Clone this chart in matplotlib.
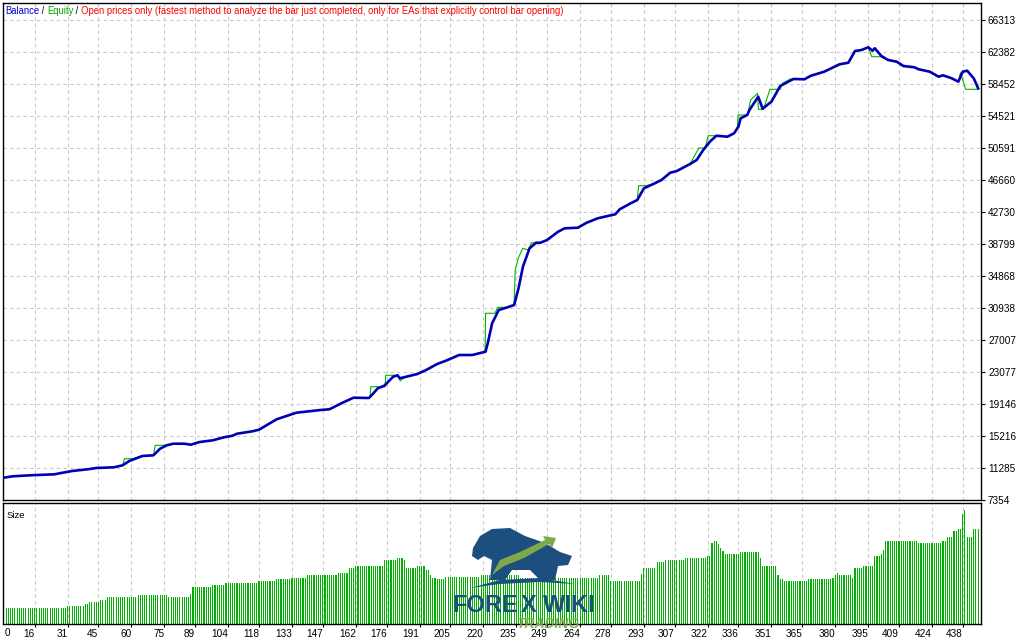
import matplotlib
matplotlib.use("Agg")
import matplotlib.pyplot as plt
import numpy as np
from matplotlib.patches import Polygon

# balance curve (trade number, account balance)
bal_trade = [1, 6, 14, 25, 28, 33, 40, 44, 52, 56, 59, 65, 70, 73, 76, 79, 84, 87, 91, 97,
             102, 106, 108, 115, 118, 126, 135, 146, 150, 153, 156, 161, 168, 170, 172, 175,
             179, 181, 182, 185, 190, 194, 199, 203, 209, 215, 221, 222, 224, 227, 231, 234,
             236, 238, 241, 244, 246, 249, 254, 257, 263, 267, 272, 280, 282, 287, 290, 293,
             297, 301, 305, 308, 314, 317, 320, 323, 326, 331, 334, 336, 337, 340, 341, 345,
             347, 351, 355, 361, 366, 369, 375, 382, 386, 389, 392, 395, 397, 398, 401, 404,
             408, 411, 416, 418, 423, 427, 429, 433, 436, 438, 440, 443, 445]
balance = [10056, 10265, 10388, 10511, 10670, 10916, 11125, 11285, 11371, 11616, 12144, 12759,
           12845, 13655, 14073, 14269, 14269, 14146, 14478, 14687, 15056, 15252, 15498, 15792,
           15989, 17267, 18077, 18409, 18495, 18900, 19306, 19920, 19883, 20460, 21074, 21393,
           22499, 22671, 22302, 22499, 22831, 23322, 24059, 24464, 25164, 25164, 25570, 26601,
           29058, 30692, 31024, 31306, 33357, 36010, 38270, 38958, 38958, 39290, 40310, 40727,
           40801, 41415, 41955, 42447, 43061, 43798, 44203, 45640, 46132, 46660, 47557, 47766,
           48625, 49116, 50345, 51364, 52101, 51978, 52396, 53207, 54239, 54644, 55258, 56892,
           55419, 56279, 58207, 59067, 59030, 59472, 59963, 60872, 61069, 62506, 62628, 62960,
           62542, 62837, 61891, 61400, 61191, 60663, 60503, 60258, 59963, 59349, 59520, 59152,
           58734, 59963, 60086, 59152, 57924]

# equity curve (floating equity between closes)
eq_trade = [1, 6, 14, 25, 28, 33, 40, 44, 52, 56, 56.8, 60.7, 64.3, 70, 70.8, 76.2, 79, 84, 87,
            91, 97, 102, 106, 108, 115, 118, 126, 135, 146, 150, 153, 156, 161, 168.5, 168.8,
            175.3, 175.6, 181.2, 182.2, 183.5, 185, 190, 194, 199, 203, 209, 215, 220.8, 221,
            225.3, 226.5, 231, 234, 234.5, 235.9, 237.9, 240.4, 241.9, 246, 249, 254, 257, 263,
            267, 272, 280, 282, 287, 290, 290.6, 293.8, 297, 301, 305, 308, 314, 318, 320.9,
            322.2, 326.5, 331, 334, 335.6, 335.8, 340.2, 341.5, 344.7, 345.1, 347.4, 350.3,
            355.1, 356, 359.6, 366, 369, 375, 382, 386, 389, 392, 395, 396.6, 400.6, 404, 408,
            411, 416, 418, 423, 427, 429, 433, 436, 437, 439.3, 445.3]
equity = [10056, 10265, 10388, 10511, 10670, 10916, 11125, 11285, 11371, 11616, 12427, 12427,
          12759, 12845, 14073, 14073, 14269, 14269, 14146, 14478, 14687, 15056, 15252, 15498,
          15792, 15989, 17267, 18077, 18409, 18495, 18900, 19306, 19920, 19920, 21271, 21271,
          22671, 22671, 21971, 22302, 22499, 22831, 23322, 24059, 24464, 25164, 25164, 25570,
          30287, 30287, 31024, 31024, 31306, 35605, 37079, 38270, 38062, 38958, 38958, 39290,
          40310, 40727, 40801, 41415, 41955, 42447, 43061, 43798, 44203, 45960, 45960, 46132,
          46660, 47557, 47766, 48625, 50591, 50591, 52101, 52101, 51978, 52396, 53207, 54644,
          54644, 56479, 57302, 55346, 55346, 57800, 57800, 58537, 59067, 59030, 59472, 59963,
          60872, 61069, 62506, 62628, 62960, 61803, 61803, 61400, 61191, 60663, 60503, 60258,
          59963, 59349, 59520, 59152, 58734, 59839, 57800, 57800]

# lot size per trade, run-length: first trade of each run and its size
size_start = [2, 31, 39, 41, 46, 49, 63, 77, 87, 88, 97, 103, 118, 126, 133, 140, 154, 159,
              162, 175, 181, 184, 185, 190, 194, 196, 197, 199, 203, 219, 237, 273, 278, 292,
              293, 299, 303, 312, 322, 324, 325, 327, 328, 329, 330, 337, 346, 347, 354, 355,
              357, 368, 379, 380, 381, 382, 388, 389, 393, 398, 401, 402, 403, 418, 429, 431,
              434, 436, 438, 439, 440, 443]
size_val = [1.53, 1.73, 1.93, 2.13, 2.40, 2.63, 2.83, 2.63, 3.00, 3.63, 3.83, 4.03, 4.23, 4.43,
            4.60, 4.83, 5.03, 5.53, 5.73, 6.33, 6.53, 6.33, 5.53, 5.73, 5.33, 4.83, 4.60, 4.43,
            4.63, 4.83, 4.60, 4.83, 4.23, 5.00, 5.53, 6.13, 6.33, 6.53, 6.73, 8.07, 8.23, 8.00,
            7.60, 7.30, 6.93, 7.13, 6.53, 5.73, 4.83, 4.43, 4.23, 4.43, 4.60, 4.83, 5.03, 4.83,
            4.60, 5.53, 5.73, 6.73, 6.93, 7.33, 8.23, 8.07, 8.23, 8.63, 9.23, 9.43, 10.97,
            11.33, 8.63, 9.43]
last_trade = 445

x_ticks = [16, 31, 45, 60, 75, 89, 104, 118, 133, 147, 162, 176, 191, 205, 220, 235, 249,
           264, 278, 293, 307, 322, 336, 351, 365, 380, 395, 409, 424, 438]
y_ticks = [7354, 11285, 15216, 19146, 23077, 27007, 30938, 34868, 38799, 42730, 46660,
           50591, 54521, 58452, 62382, 66313]

W, H = 1024, 640
FONT = "Liberation Sans"
plt.rcParams['font.family'] = [FONT, 'DejaVu Sans']

fig = plt.figure(figsize=(W / 100, H / 100), dpi=100)
fig.patch.set_facecolor('white')

def box(x0, y0, x1, y1):
    return [x0 / W, 1 - y1 / H, (x1 - x0) / W, (y1 - y0) / H]

ax = fig.add_axes(box(3, 3, 981, 500))
ax2 = fig.add_axes(box(3, 503, 981, 623.5))

xlo, xhi = 1.58, 446.3
grid_kw = dict(color='#c8c8c8', linestyle=(0, (3, 3)), linewidth=0.8)

# main panel
ystep = (y_ticks[-1] - y_ticks[0]) / (len(y_ticks) - 1)
ax.set_xlim(xlo, xhi)
ax.set_ylim(y_ticks[0], y_ticks[-1] + ystep * 17 / 32)
for v in x_ticks:
    ax.axvline(v, zorder=0, **grid_kw)
for v in y_ticks[1:]:
    ax.axhline(v, zorder=0, **grid_kw)
ax.plot(eq_trade, equity, color='#00b400', linewidth=0.8, zorder=2)
ax.plot(bal_trade, balance, color='#0000b4', linewidth=1.9, zorder=3)
ax.set_xticks([])
ax.yaxis.tick_right()
ax.set_yticks(y_ticks)
ax.set_yticklabels([str(v) for v in y_ticks])
ax.tick_params(axis='y', direction='out', length=3, width=0.8, pad=2,
               labelsize=7.2, colors='black')
for s in ax.spines.values():
    s.set_linewidth(1.0)
    s.set_color('black')

# size panel
counts = np.diff(size_start + [last_trade + 1])
sizes = np.repeat(size_val, counts)
trades = np.arange(size_start[0], last_trade + 1)
ax2.set_xlim(xlo, xhi)
ax2.set_ylim(0, 12.06)
for v in x_ticks:
    ax2.axvline(v, zorder=0, **grid_kw)
ax2.bar(trades, sizes, width=0.5, color='#00b000', linewidth=0, zorder=2)
ax2.set_yticks([])
ax2.set_xticks(x_ticks)
ax2.set_xticklabels([str(v) for v in x_ticks], ha='right')
ax2.tick_params(axis='x', direction='out', length=2, width=0.8, pad=2,
                labelsize=7.2, colors='black')
for s in ax2.spines.values():
    s.set_linewidth(1.0)
    s.set_color('black')
ax2.text(xlo + 0.6, -0.45, "0", transform=ax2.transData, ha='left', va='top',
         fontsize=7.2)
ax2.text(0.004, 0.93, "Size", transform=ax2.transAxes, ha='left',
         va='top', fontsize=6.8)

# header line
renderer = fig.canvas.get_renderer()
parts = [("Balance", '#0000c8'), (" / ", 'black'), ("Equity", '#00a000'), (" / ", 'black'),
         ("Open prices only (fastest method to analyze the bar just completed, only for EAs "
          "that explicitly control bar opening)", '#ff0000')]
xpos = 5 / W
for txt, col in parts:
    t = fig.text(xpos, 1 - 11.5 / H, txt, color=col, fontsize=6.85, va='center', ha='left')
    bb = t.get_window_extent(renderer)
    xpos = bb.x1 / W

# watermark logo
def px(x, y):
    return (x / W, 1 - y / H)

blue = '#1d4f7e'
lgreen = '#7fa84a'
bear = [(473, 548), (480, 536), (492, 529), (510, 528), (525, 536), (545, 543), (560, 552),
        (572, 556), (568, 565), (558, 566), (555, 580), (540, 580), (530, 570), (512, 570),
        (505, 580), (490, 580), (492, 560), (484, 556), (478, 560), (472, 556)]
fig.patches.append(Polygon([px(*p) for p in bear], closed=True, transform=fig.transFigure,
                           facecolor=blue, edgecolor='none', zorder=5))
arrow = [(492, 575), (500, 560), (520, 552), (545, 540), (543, 536), (556, 538), (552, 548),
         (549, 544), (524, 558), (504, 566)]
fig.patches.append(Polygon([px(*p) for p in arrow], closed=True, transform=fig.transFigure,
                           facecolor=lgreen, edgecolor='none', zorder=6))
swoosh = [(470, 588), (500, 580), (540, 578), (575, 584), (540, 582), (500, 584)]
fig.patches.append(Polygon([px(*p) for p in swoosh], closed=True, transform=fig.transFigure,
                           facecolor=blue, edgecolor='none', zorder=5))
fig.text(*px(452, 606), "FORE", color=blue, fontsize=17, fontweight='bold',
         va='center', ha='left', zorder=7)
fig.text(*px(529, 606), "X", color=blue, fontsize=17, fontweight='bold',
         va='center', ha='center', zorder=7)
fig.text(*px(543, 606), "WIKI", color=blue, fontsize=17, fontweight='bold',
         va='center', ha='left', zorder=7)
fig.text(*px(548, 624), "TRADING", color=lgreen, fontsize=10, fontstyle='italic',
         fontweight='bold', va='center', ha='center', zorder=7, alpha=0.9)

fig.savefig("out.png", dpi=100, facecolor='white')
